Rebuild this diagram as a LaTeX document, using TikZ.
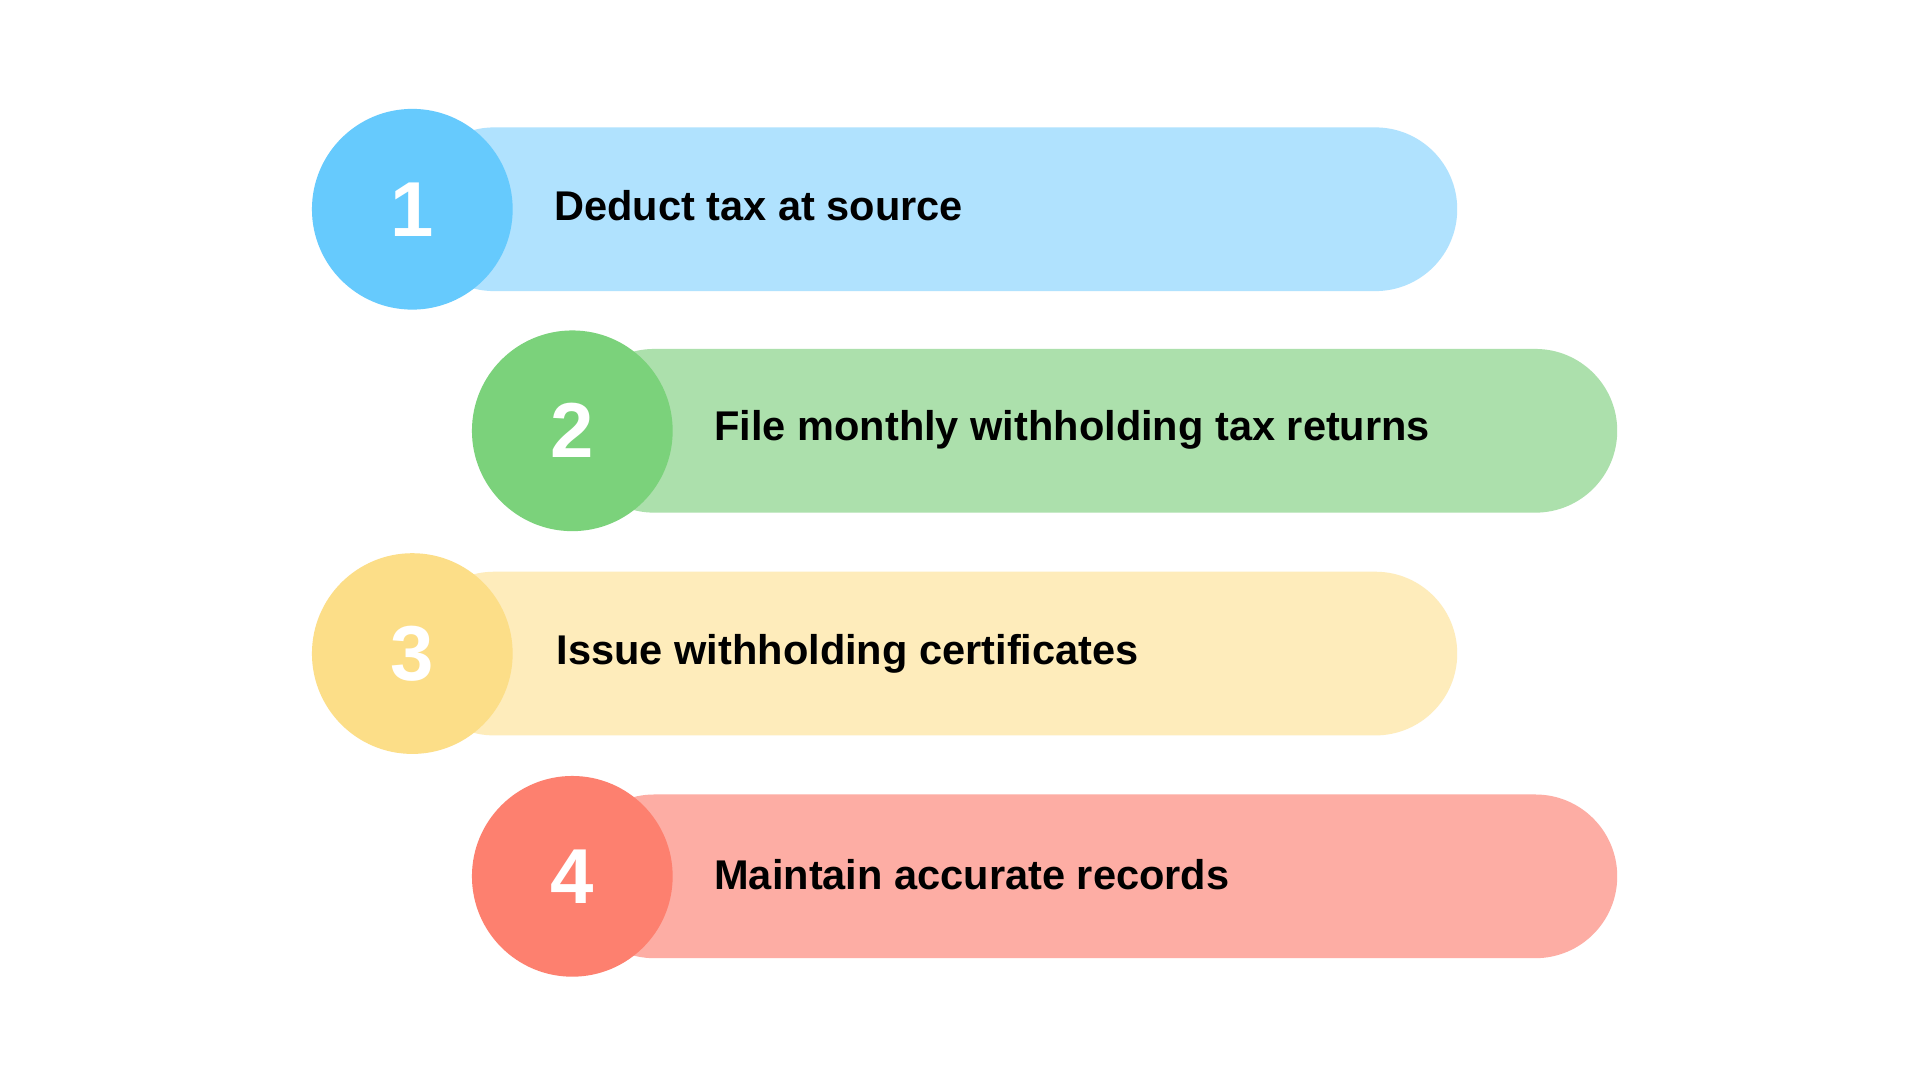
\documentclass[tikz,border=0pt]{standalone}
\usepackage{fontspec}
\setmainfont{Liberation Sans}
\definecolor{b1}{HTML}{B0E2FE}\definecolor{c1}{HTML}{66CAFD}
\definecolor{b2}{HTML}{ACE0AC}\definecolor{c2}{HTML}{7BD27B}
\definecolor{b3}{HTML}{FEECBB}\definecolor{c3}{HTML}{FCDE88}
\definecolor{b4}{HTML}{FDADA4}\definecolor{c4}{HTML}{FD806F}
\begin{document}
\begin{tikzpicture}[x=0.01cm,y=-0.01cm,
  numc/.style={circle,minimum size=1.63cm,inner sep=0pt,text=white,font=\fontsize{18}{18}\selectfont\bfseries},
  lbl/.style={anchor=west,font=\fontsize{9.6}{11}\selectfont\bfseries,text=black}]
\useasboundingbox[fill=white] (0,0) rectangle (1560,877.5);
\foreach \i/\cx/\cy in {1/335/170,2/465/350,3/335/531,4/465/712}{
  \fill[b\i,rounded corners=66.5*0.01cm] (\cx,\cy-66.5) rectangle (\cx+849,\cy+66.5);
}
\node[numc,fill=c1] (n1) at (335,170) {1};
\node[numc,fill=c2] (n2) at (465,350) {2};
\node[numc,fill=c3] (n3) at (335,531) {3};
\node[numc,fill=c4] (n4) at (465,712) {4};
\node[lbl] (t1) at (438,167) {Deduct tax at source};
\node[lbl] (t2) at (568,349) {File monthly withholding tax returns};
\node[lbl] (t3) at (440,531) {Issue withholding certificates};
\node[lbl] (t4) at (568,711) {Maintain accurate records};
\end{tikzpicture}
\end{document}
